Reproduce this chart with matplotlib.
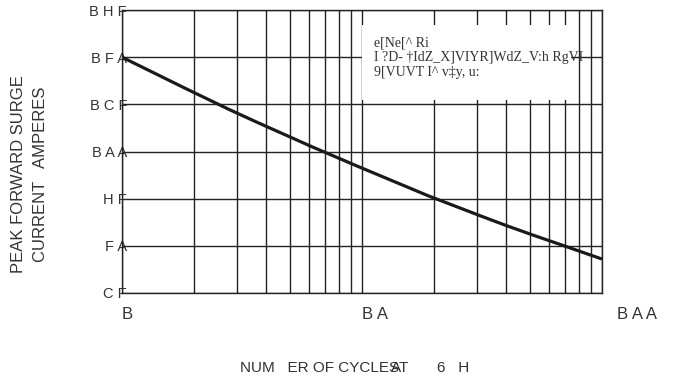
import matplotlib
matplotlib.use("Agg")
import matplotlib.pyplot as plt
from matplotlib.ticker import LogLocator, NullFormatter
from matplotlib.patches import Rectangle
from matplotlib.transforms import ScaledTranslation

# curve (cycles, amperes)
cycles = [1, 1.8, 2.77, 3.58, 6.19, 9.66, 18.9, 31, 39.8, 52.1, 64.3, 100]
amps = [150, 134, 122.5, 116, 102.5, 92, 76.5, 66, 60.8, 55.5, 51.5, 43]

# tick labels as they appear (garbled font in the source)
x_ticks = [1, 10, 100]
x_labels = ["B", "B A", "B A A"]
y_ticks = [25, 50, 75, 100, 125, 150, 175]
y_labels = ["C F", "F A", "H F", "B A A", "B C F", "B F A", "B H F"]

box_lines = ["e[Ne[^ Ri", "I ?D- \u2020IdZ_X]VIYR]WdZ_V:h RgVI", "9[VUVT I^ v\u2021y, u:"]

ink = "#222222"
txt = "#333333"
sans = ["Liberation Sans", "DejaVu Sans"]
serif = ["Liberation Serif", "DejaVu Serif"]

fig = plt.figure(figsize=(6.78, 3.78), dpi=100)
ax = fig.add_axes([122 / 678, 1 - 293 / 378, 480 / 678, 283 / 378])

ax.set_xscale("log")
ax.set_xlim(1, 100)
ax.set_ylim(25, 175)

ax.xaxis.set_minor_locator(LogLocator(base=10, subs=range(2, 10)))
ax.xaxis.set_minor_formatter(NullFormatter())
ax.set_axisbelow(True)
ax.grid(True, which="both", axis="x", color=ink, lw=1.0)
ax.grid(True, which="major", axis="y", color=ink, lw=1.0)
for s in ax.spines.values():
    s.set_color(ink)
    s.set_linewidth(1.0)

ax.tick_params(axis="y", which="both", length=0, pad=-3.6)
ax.tick_params(axis="x", which="both", length=0, pad=10)
ax.set_yticks(y_ticks, y_labels, fontsize=10.5, color=txt, family=sans)
ax.set_xticks(x_ticks, x_labels, fontsize=12, color=txt, family=sans)
xl = ax.get_xticklabels()
for lab in xl:
    lab.set_horizontalalignment("left")
# last label sits a little right of the frame in the original
xl[-1].set_transform(xl[-1].get_transform() + ScaledTranslation(0.15, 0, fig.dpi_scale_trans))

# white note box hiding the grid
ax.add_patch(Rectangle((0.5, 0.682), 0.435, 0.265, transform=ax.transAxes,
                       facecolor="white", edgecolor="none", zorder=1))
for i, line in enumerate(box_lines):
    ax.text(0.525, 0.884 - i * 0.053, line, transform=ax.transAxes,
            va="center", ha="left", fontsize=10, color=txt, family=serif, zorder=3)

ax.plot(cycles, amps, color="#1a1a1a", lw=2.3, solid_capstyle="butt", zorder=2)

fig.text(19 / 678, 1 - 174 / 378, "PEAK FORWARD SURGE", rotation=90,
         ha="center", va="center", fontsize=12, color=txt, family=sans)
fig.text(41 / 678, 1 - 174 / 378, "CURRENT   AMPERES", rotation=90,
         ha="center", va="center", fontsize=12, color=txt, family=sans)
fig.text(240 / 678, 1 - 372 / 378, "NUM   ER OF CYCLES", ha="left", va="baseline",
         fontsize=11, color=txt, family=sans)
fig.text(391 / 678, 1 - 372 / 378, "AT", ha="left", va="baseline",
         fontsize=11, color=txt, family=sans)
fig.text(437 / 678, 1 - 372 / 378, "6   H", ha="left", va="baseline",
         fontsize=11, color=txt, family=sans)

fig.savefig("out.png", dpi=100)
